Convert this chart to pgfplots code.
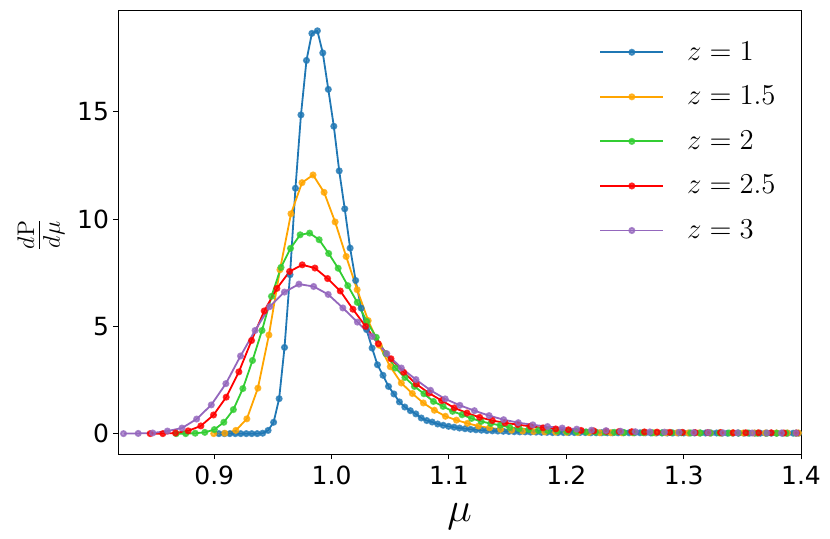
\documentclass[border=0pt]{standalone}
\usepackage[no-math]{fontspec}
\setmainfont{DejaVu Sans}
\usepackage{pgfplots}
\pgfplotsset{compat=1.18}
\definecolor{cblue}{RGB}{31,119,180}
\definecolor{corange}{RGB}{255,165,0}
\definecolor{cgreen}{RGB}{50,205,50}
\definecolor{cred}{RGB}{255,0,0}
\definecolor{cpurple}{RGB}{148,103,189}
\begin{document}
\begin{tikzpicture}
\begin{axis}[name=ax, scale only axis, width=341.5pt, height=222pt,
  xmin=0.818, xmax=1.4, ymin=-0.95, ymax=19.75,
  xtick={0.9,1.0,1.1,1.2,1.3,1.4}, xticklabels={0.9,1.0,1.1,1.2,1.3,1.4},
  ytick={0,5,10,15}, yticklabels={0,5,10,15},
  tick align=outside, tick pos=left, major tick length=2.5pt,
  tick style={black, line width=0.5pt}, axis line style={line width=0.5pt},
  ticklabel style={font=\fontsize{12.5}{14}\selectfont},
  yticklabel style={xshift=1.5pt},
  /pgf/number format/assume math mode=true,
  xlabel={\fontsize{20}{24}\selectfont$\mu$},
  xlabel style={at={(axis description cs:0.5,-0.151)}, anchor=base},
  every axis plot/.append style={line width=0.9pt, mark=*, mark size=1.3pt, mark options={solid, fill opacity=0.65, draw opacity=0.8}},
  legend style={draw=none, fill=none, inner sep=0pt, at={(axis description cs:0.7043,0.93)}, anchor=north west, row sep=11.5pt, nodes={inner sep=0pt}, font=\fontsize{14}{16}\selectfont},
  legend cell align=left,
  legend image code/.code={\draw[mark repeat=2, mark phase=2] plot coordinates {(0pt,0pt) (15.75pt,0pt) (31.5pt,0pt)}; \path (43pt,0pt);},
]
\addplot[color=cblue] coordinates {(0.9040,0) (0.9087,0) (0.9133,0) (0.9180,0) (0.9226,0) (0.9273,0) (0.9320,0) (0.9366,0) (0.9413,0.02) (0.9459,0.15) (0.9506,0.53) (0.9553,1.63) (0.9599,4.02) (0.9646,7.41) (0.9692,11.44) (0.9739,14.86) (0.9786,17.40) (0.9832,18.66) (0.9879,18.78) (0.9925,17.75) (0.9972,16.05) (1.0019,14.33) (1.0065,12.25) (1.0112,10.48) (1.0158,8.65) (1.0205,7.14) (1.0252,5.85) (1.0298,4.85) (1.0345,3.99) (1.0391,3.21) (1.0438,2.72) (1.0485,2.20) (1.0531,1.85) (1.0578,1.48) (1.0624,1.24) (1.0671,1.07) (1.0718,0.92) (1.0764,0.73) (1.0811,0.61) (1.0857,0.54) (1.0904,0.45) (1.0951,0.39) (1.0997,0.34) (1.1044,0.30) (1.1090,0.26) (1.1137,0.23) (1.1184,0.20) (1.1230,0.18) (1.1277,0.16) (1.1323,0.14) (1.1370,0.13) (1.1417,0.12) (1.1463,0.11) (1.1510,0.10) (1.1556,0.09) (1.1603,0.08) (1.1650,0.08) (1.1696,0.07) (1.1743,0.07) (1.1789,0.06) (1.1836,0.06) (1.1883,0.05) (1.1929,0.05) (1.1976,0.05) (1.2022,0.05) (1.2069,0.05) (1.2116,0.05) (1.2162,0.05) (1.2209,0.04) (1.2255,0.04) (1.2302,0.04) (1.2349,0.04) (1.2395,0.04) (1.2442,0.04) (1.2488,0.04) (1.2535,0.04) (1.2582,0.04) (1.2628,0.04) (1.2675,0.04) (1.2721,0.03) (1.2768,0.03) (1.2815,0.03) (1.2861,0.03) (1.2908,0.03) (1.2954,0.03) (1.3001,0.03) (1.3048,0.03) (1.3094,0.03) (1.3141,0.03) (1.3187,0.03) (1.3234,0.03) (1.3281,0.03) (1.3327,0.02) (1.3374,0.02) (1.3420,0.02) (1.3467,0.02) (1.3514,0.02) (1.3560,0.02) (1.3607,0.02) (1.3653,0.02) (1.3700,0.02) (1.3747,0.02) (1.3793,0.02) (1.3840,0.02) (1.3886,0.02) (1.3933,0.02) (1.3980,0.02) (1.4026,0.02)};
\addlegendentry{$z=1$}
\addplot[color=corange] coordinates {(0.8996,0) (0.9090,0.02) (0.9184,0.15) (0.9278,0.69) (0.9372,2.12) (0.9466,4.60) (0.9560,7.64) (0.9654,10.25) (0.9748,11.70) (0.9842,12.06) (0.9936,11.25) (1.0030,9.87) (1.0124,8.26) (1.0218,6.71) (1.0312,5.27) (1.0406,4.12) (1.0500,3.12) (1.0594,2.36) (1.0688,1.87) (1.0782,1.43) (1.0876,1.09) (1.0970,0.81) (1.1064,0.63) (1.1158,0.48) (1.1252,0.35) (1.1346,0.27) (1.1440,0.20) (1.1534,0.16) (1.1628,0.12) (1.1722,0.10) (1.1816,0.08) (1.1910,0.07) (1.2004,0.06) (1.2098,0.05) (1.2192,0.05) (1.2286,0.04) (1.2380,0.04) (1.2474,0.04) (1.2568,0.04) (1.2662,0.04) (1.2756,0.04) (1.2850,0.04) (1.2944,0.04) (1.3038,0.03) (1.3132,0.03) (1.3226,0.03) (1.3320,0.03) (1.3414,0.03) (1.3508,0.03) (1.3602,0.03) (1.3696,0.03) (1.3790,0.03) (1.3884,0.03) (1.3978,0.03) (1.4072,0.03)};
\addlegendentry{$z=1.5$}
\addplot[color=cgreen] coordinates {(0.8676,0) (0.8757,0) (0.8838,0.02) (0.8920,0.06) (0.9001,0.19) (0.9082,0.53) (0.9163,1.12) (0.9244,2.10) (0.9326,3.41) (0.9407,4.81) (0.9488,6.40) (0.9569,7.75) (0.9650,8.64) (0.9732,9.27) (0.9813,9.35) (0.9894,9.04) (0.9975,8.40) (1.0056,7.71) (1.0138,6.90) (1.0219,6.12) (1.0300,5.23) (1.0381,4.49) (1.0462,3.73) (1.0544,3.06) (1.0625,2.62) (1.0706,2.20) (1.0787,1.86) (1.0868,1.50) (1.0950,1.27) (1.1031,1.04) (1.1112,0.88) (1.1193,0.71) (1.1274,0.57) (1.1356,0.47) (1.1437,0.39) (1.1518,0.29) (1.1599,0.23) (1.1680,0.19) (1.1762,0.15) (1.1843,0.14) (1.1924,0.12) (1.2005,0.10) (1.2086,0.09) (1.2168,0.08) (1.2249,0.07) (1.2330,0.06) (1.2411,0.06) (1.2492,0.05) (1.2574,0.05) (1.2655,0.05) (1.2736,0.04) (1.2817,0.04) (1.2898,0.04) (1.2980,0.04) (1.3061,0.03) (1.3142,0.03) (1.3223,0.03) (1.3304,0.03) (1.3386,0.03) (1.3467,0.03) (1.3548,0.03) (1.3629,0.02) (1.3710,0.02) (1.3792,0.02) (1.3873,0.02) (1.3954,0.02) (1.4035,0.02)};
\addlegendentry{$z=2$}
\addplot[color=cred] coordinates {(0.8454,0) (0.8562,0) (0.8670,0.03) (0.8778,0.13) (0.8886,0.36) (0.8994,0.87) (0.9102,1.70) (0.9210,2.88) (0.9318,4.34) (0.9426,5.72) (0.9534,6.77) (0.9642,7.56) (0.9750,7.87) (0.9858,7.72) (0.9966,7.23) (1.0074,6.65) (1.0182,5.80) (1.0290,5.00) (1.0398,4.19) (1.0506,3.49) (1.0614,2.86) (1.0722,2.31) (1.0830,1.89) (1.0938,1.54) (1.1046,1.20) (1.1154,0.96) (1.1262,0.76) (1.1370,0.61) (1.1478,0.50) (1.1586,0.42) (1.1694,0.34) (1.1802,0.27) (1.1910,0.22) (1.2018,0.18) (1.2126,0.15) (1.2234,0.13) (1.2342,0.11) (1.2450,0.10) (1.2558,0.09) (1.2666,0.08) (1.2774,0.07) (1.2882,0.06) (1.2990,0.06) (1.3098,0.05) (1.3206,0.05) (1.3314,0.05) (1.3422,0.04) (1.3530,0.04) (1.3638,0.04) (1.3746,0.04) (1.3854,0.03) (1.3962,0.03) (1.4070,0.03)};
\addlegendentry{$z=2.5$}
\addplot[color=cpurple] coordinates {(0.8227,0) (0.8352,0.01) (0.8476,0.03) (0.8601,0.12) (0.8725,0.26) (0.8850,0.68) (0.8975,1.34) (0.9099,2.33) (0.9224,3.62) (0.9348,4.81) (0.9473,5.92) (0.9598,6.60) (0.9722,6.97) (0.9847,6.86) (0.9971,6.49) (1.0096,5.86) (1.0220,5.20) (1.0345,4.53) (1.0470,3.73) (1.0594,3.06) (1.0719,2.52) (1.0843,2.02) (1.0968,1.62) (1.1093,1.32) (1.1217,1.07) (1.1342,0.84) (1.1466,0.65) (1.1591,0.51) (1.1715,0.41) (1.1840,0.33) (1.1965,0.26) (1.2089,0.21) (1.2214,0.16) (1.2338,0.14) (1.2463,0.11) (1.2588,0.09) (1.2712,0.08) (1.2837,0.07) (1.2961,0.06) (1.3086,0.05) (1.3210,0.05) (1.3335,0.04) (1.3460,0.04) (1.3584,0.03) (1.3709,0.03) (1.3833,0.03) (1.3958,0.03) (1.4082,0.02)};
\addlegendentry{$z=3$}
\end{axis}
\node[rotate=90, anchor=center, inner sep=0pt] at ([xshift=-38.5pt, yshift=-1.5pt]ax.west) {\fontsize{18.5}{22}\selectfont$\frac{d\mathrm{P}}{d\mu}$};
\pgfresetboundingbox
\path[use as bounding box] ([xshift=-59pt,yshift=-42pt]ax.south west) rectangle ([xshift=14.5pt,yshift=5pt]ax.north east);
\end{tikzpicture}
\end{document}
